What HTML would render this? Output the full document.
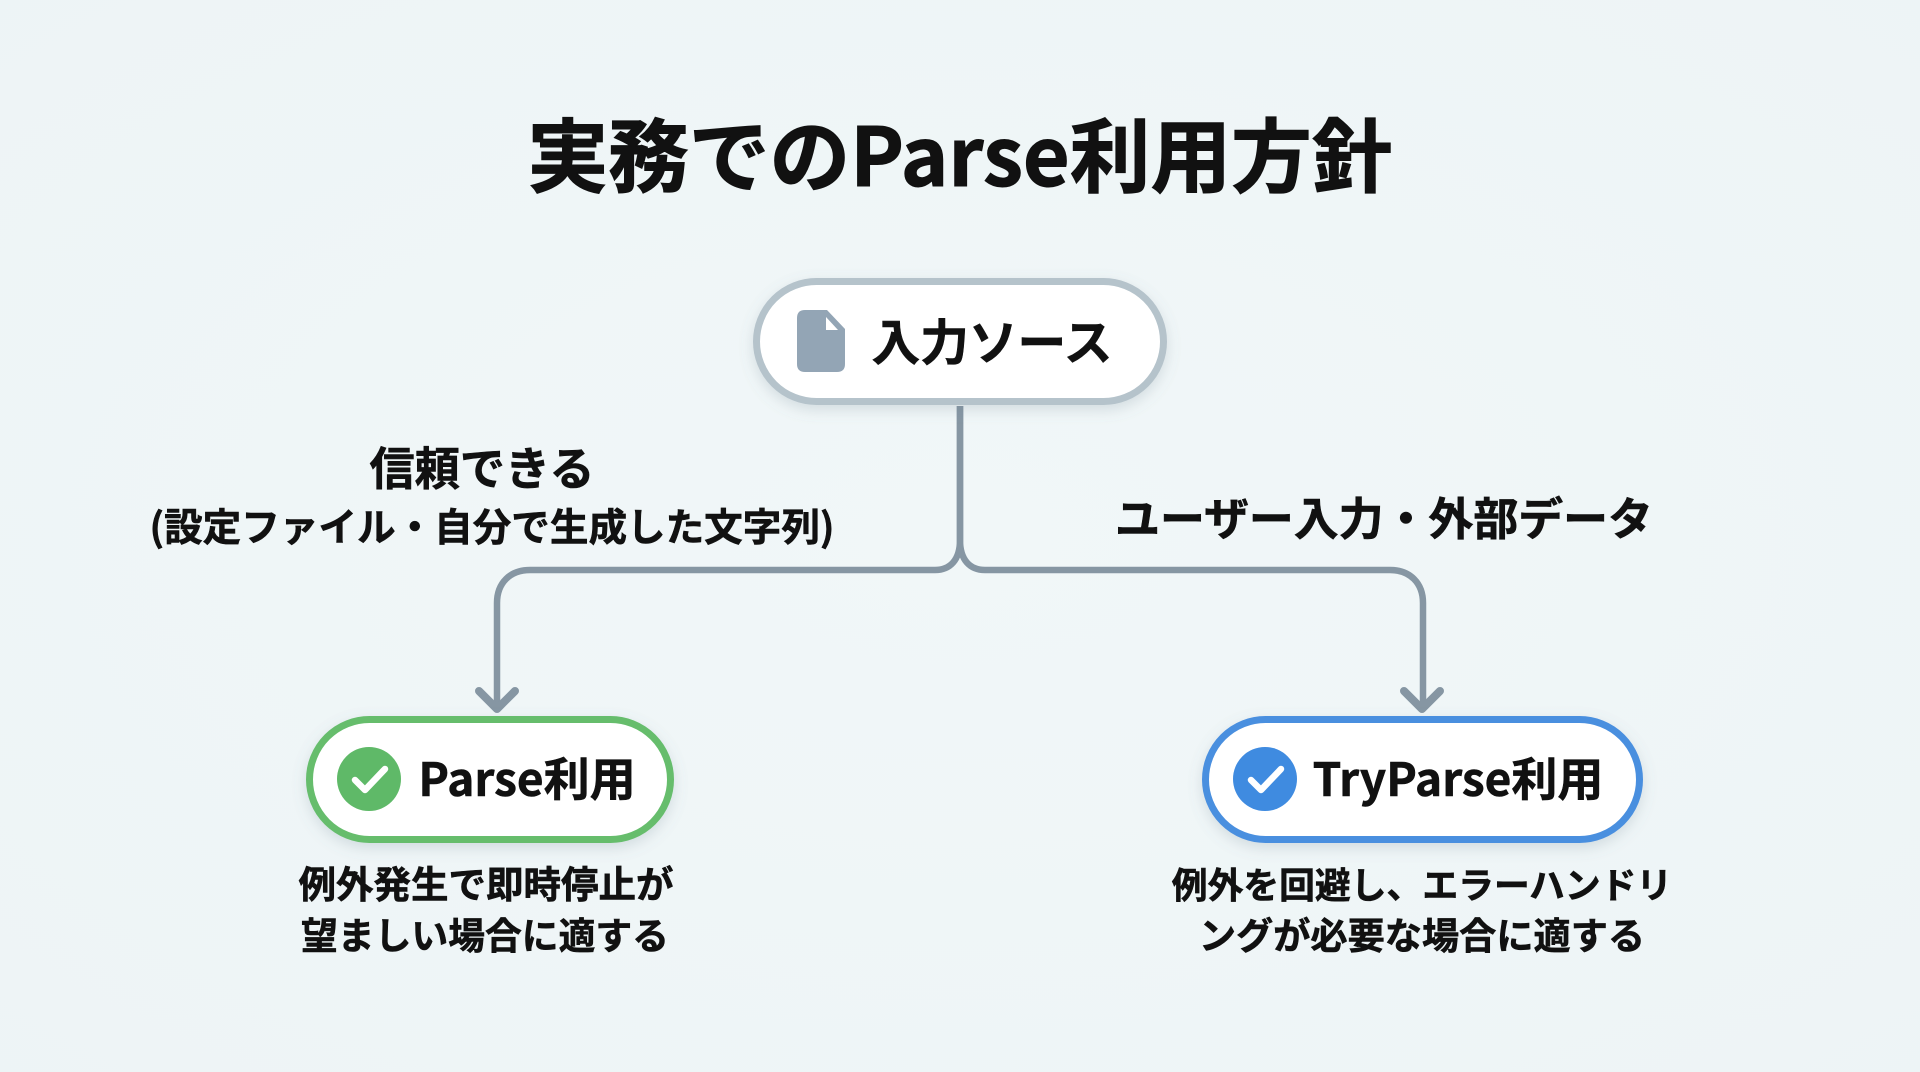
<!DOCTYPE html>
<html lang="ja"><head><meta charset="utf-8"><style>
html,body{margin:0;padding:0;background:#eff5f7}
svg{display:block}
text{font-family:"Noto Sans CJK JP","Liberation Sans",sans-serif;font-weight:700;fill:#111;stroke:#111;stroke-width:.6px;text-anchor:middle}
</style></head><body>
<svg width="1920" height="1072" viewBox="0 0 1920 1072" xmlns="http://www.w3.org/2000/svg">
<defs>
<radialGradient id="bg" cx="50%" cy="50%" r="75%"><stop offset="0" stop-color="#f1f7f8"/><stop offset="1" stop-color="#edf4f6"/></radialGradient>
<filter id="sh" x="-20%" y="-30%" width="140%" height="170%"><feDropShadow dx="0" dy="5" stdDeviation="7" flood-color="#6a7f8c" flood-opacity=".22"/></filter>
</defs>
<rect width="1920" height="1072" fill="url(#bg)"/>
<text x="960" y="186" font-size="80.700" style="stroke-width:1px">実務でのParse利用方針</text>

<g fill="none" stroke="#8696a3" stroke-width="6.500">
<path d="M960 406V540C960 560 950 570 935 570H530C510 570 497 583 497 603V708"/>
<path d="M960 406V540C960 560 970 570 985 570H1390C1410 570 1423 583 1423 603V708"/>
<path d="M479 691L497 709L515 691" stroke-width="8" stroke-linecap="round" stroke-linejoin="round"/>
<path d="M1404 691L1422 709L1440 691" stroke-width="8" stroke-linecap="round" stroke-linejoin="round"/>
</g>

<rect x="756.500" y="281.500" width="407" height="120" rx="60" fill="#fff" stroke="#b5c3cb" stroke-width="7" filter="url(#sh)"/>
<path d="M805 310H827L845 329V364Q845 372 837 372H805Q797 372 797 364V318Q797 310 805 310Z" fill="#93a5b5"/>
<path d="M826 317L838 330H826Z" fill="#fff"/>
<text x="992" y="360" font-size="48.700">入力ソース</text>

<text x="482" y="485" font-size="45.200">信頼できる</text>
<text x="492" y="541" font-size="38.600">(設定ファイル・自分で生成した文字列)</text>
<text x="1384" y="535" font-size="44.900">ユーザー入力・外部データ</text>

<rect x="309.500" y="719.500" width="361" height="120" rx="60" fill="#fff" stroke="#66bd6c" stroke-width="7" filter="url(#sh)"/>
<circle cx="369" cy="779" r="32" fill="#5fb968"/>
<path d="M355 780L365 790L385 769" fill="none" stroke="#fff" stroke-width="6.500" stroke-linecap="round" stroke-linejoin="round"/>
<text x="527" y="796" font-size="46">Parse利用</text>

<rect x="1205.500" y="719.500" width="434" height="120" rx="60" fill="#fff" stroke="#4a8fdf" stroke-width="7" filter="url(#sh)"/>
<circle cx="1265" cy="779" r="32" fill="#3f8be0"/>
<path d="M1251 780L1261 790L1281 769" fill="none" stroke="#fff" stroke-width="6.500" stroke-linecap="round" stroke-linejoin="round"/>
<text x="1458" y="796" font-size="46">TryParse利用</text>

<text x="486" y="898" font-size="37.500">例外発生で即時停止が</text>
<text x="485" y="949" font-size="36.800">望ましい場合に適する</text>
<text x="1422" y="898" font-size="35.800">例外を回避し、エラーハンドリ</text>
<text x="1422" y="949" font-size="37.200">ングが必要な場合に適する</text>
</svg>
</body></html>
